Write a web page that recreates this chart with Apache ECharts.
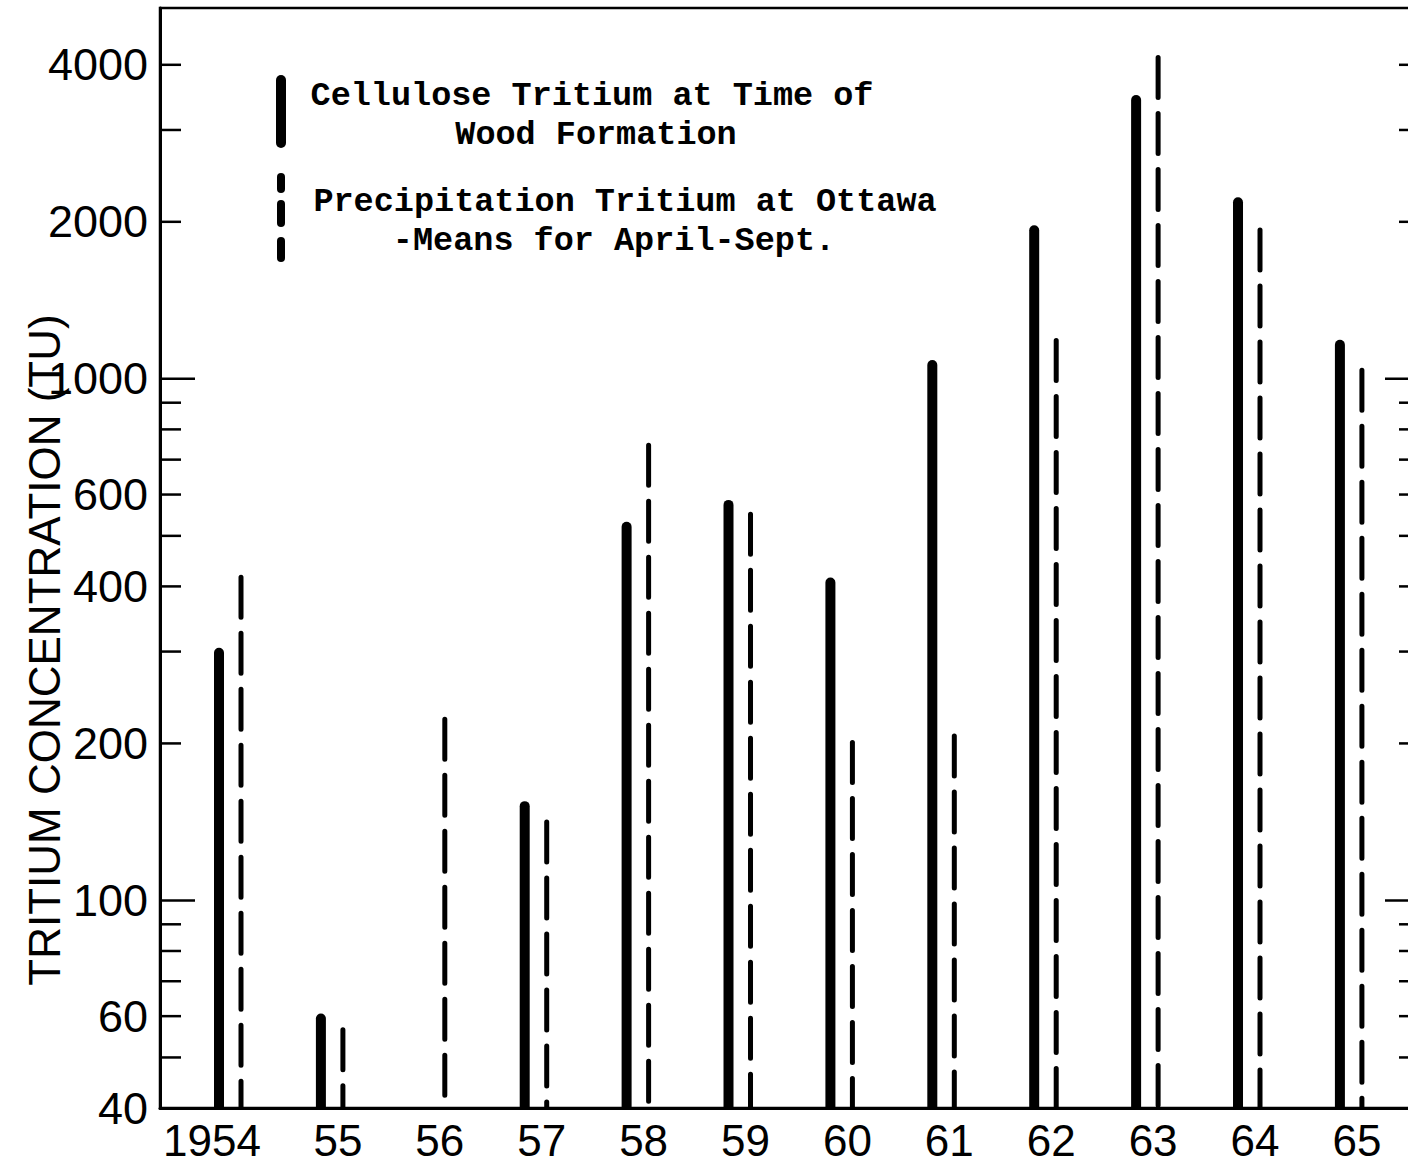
<!DOCTYPE html>
<html>
<head>
<meta charset="utf-8">
<script src="https://cdn.jsdelivr.net/npm/echarts@6/dist/echarts.min.js"></script>
<style>
  html, body { margin: 0; padding: 0; background: #fff; }
  #chart { width: 1408px; height: 1163px; }
</style>
</head>
<body>
<div id="chart"></div>
<script>
// Growing-season years
const years = [1954, 1955, 1956, 1957, 1958, 1959, 1960, 1961, 1962, 1963, 1964, 1965];
const yearLabels = ['1954', '55', '56', '57', '58', '59', '60', '61', '62', '63', '64', '65'];

// Cellulose tritium at time of wood formation (TU); no sample for 1956
const cellulose = [305, 60.7, null, 155, 532, 586, 416, 1087, 1970, 3500, 2230, 1188];
// Precipitation tritium at Ottawa, April-September means (TU)
const precipitation = [421, 57.1, 225, 143, 754, 556, 203, 209, 1198, 4175, 1950, 1050];

// Log-axis graduations
const yLabelValues = [40, 60, 100, 200, 400, 600, 1000, 2000, 4000];
const yShortTicks = [50, 60, 70, 80, 90, 200, 300, 400, 500, 600, 700, 800, 900, 2000, 3000, 4000];
const yLongTicks = [100, 1000];

const Y_MIN = 40, Y_MAX = 5140;
const X_MIN = 1953.313, X_MAX = 1965.678;
const PAIR_OFFSET = 11;     // px between a year's centre and each of its two bars

const chart = echarts.init(document.getElementById('chart'), null, { renderer: 'svg' });

function pairs(vals) {
  const out = [];
  years.forEach((y, i) => { if (vals[i] != null) out.push([y, vals[i]]); });
  return out;
}

// A leading "1" is set in a narrow slot, as on the typeset scale
function tickText(v) {
  const s = String(v);
  return s.charAt(0) === '1' ? '{one|1}{d|' + s.slice(1) + '}' : '{d|' + s + '}';
}

const tickData = yShortTicks.map(v => [X_MIN, v, 0]).concat(yLongTicks.map(v => [X_MIN, v, 1]));
const legendFont = 'bold 33.5px "Liberation Mono"';

function legendLine(text, x, y) {
  return { type: 'text', x: x, y: y, style: { text: text, font: legendFont, fill: '#000', align: 'center', verticalAlign: 'middle' } };
}

const option = {
  animation: false,
  backgroundColor: '#fff',
  grid: {
    left: 160, top: 8, width: 1260, height: 1100,
    outerBoundsMode: 'none', containLabel: false,
    show: true, borderColor: '#000', borderWidth: 2.5
  },
  xAxis: {
    type: 'value', min: X_MIN, max: X_MAX,
    splitLine: { show: false },
    axisLine: { show: true, lineStyle: { color: '#000', width: 3 } },
    axisTick: { show: false },
    axisLabel: {
      customValues: years,
      margin: 10,
      color: '#000',
      fontFamily: 'Liberation Sans',
      fontSize: 44,
      formatter: v => {
        const i = years.indexOf(Math.round(v));
        if (i === 0) return '{first|' + yearLabels[i] + '}';
        return '{yr|' + yearLabels[i] + '}';
      },
      rich: {
        first: { fontFamily: 'Liberation Sans', fontSize: 44, color: '#000', padding: [0, 36, 0, 0] },
        yr: { fontFamily: 'Liberation Sans', fontSize: 44, color: '#000', padding: [0, 0, 0, 12] }
      }
    }
  },
  yAxis: {
    type: 'log', min: Y_MIN, max: Y_MAX, logBase: 10,
    splitLine: { show: false },
    axisLine: { show: true, lineStyle: { color: '#000', width: 3 } },
    axisTick: { show: false },
    axisLabel: { show: false }
  },
  graphic: [
    {
      type: 'text', x: 44, y: 650, rotation: Math.PI / 2,
      style: { text: 'TRITIUM CONCENTRATION (TU)', font: '44px "Liberation Sans"', fill: '#000', align: 'center', verticalAlign: 'middle' }
    },
    // legend keys
    { type: 'rect', shape: { x: 276, y: 75, width: 10, height: 73, r: 5 }, style: { fill: '#000' } },
    { type: 'rect', shape: { x: 277, y: 173, width: 8, height: 20, r: 4 }, style: { fill: '#000' } },
    { type: 'rect', shape: { x: 277, y: 200, width: 8, height: 27, r: 4 }, style: { fill: '#000' } },
    { type: 'rect', shape: { x: 277, y: 237, width: 8, height: 25, r: 4 }, style: { fill: '#000' } },
    // legend text
    legendLine('Cellulose Tritium at Time of', 592, 95.5),
    legendLine('Wood Formation', 596, 134.5),
    legendLine('Precipitation Tritium at Ottawa', 625, 202),
    legendLine('-Means for April-Sept.', 614, 241)
  ],
  series: [
    {
      name: 'Cellulose Tritium at Time of Wood Formation',
      type: 'custom', coordinateSystem: 'cartesian2d', clip: true,
      data: pairs(cellulose),
      renderItem: (params, api) => {
        const top = api.coord([api.value(0), api.value(1)]);
        const base = api.coord([api.value(0), Y_MIN]);
        const w = 10;
        return {
          type: 'rect',
          shape: { x: top[0] - PAIR_OFFSET - w / 2, y: top[1], width: w, height: base[1] - top[1] + 4, r: [5, 5, 0, 0] },
          style: { fill: '#000' }
        };
      }
    },
    {
      name: 'Precipitation Tritium at Ottawa',
      type: 'custom', coordinateSystem: 'cartesian2d', clip: true,
      data: pairs(precipitation),
      renderItem: (params, api) => {
        const top = api.coord([api.value(0), api.value(1)]);
        const base = api.coord([api.value(0), Y_MIN]);
        const x = top[0] + PAIR_OFFSET;
        return {
          type: 'line',
          shape: { x1: x, y1: top[1] + 2.5, x2: x, y2: base[1] + 4 },
          style: { stroke: '#000', lineWidth: 5, lineCap: 'round', lineDash: [40, 16] }
        };
      }
    },
    {
      name: 'ticks',
      type: 'custom', coordinateSystem: 'cartesian2d', clip: false, silent: true,
      data: tickData,
      renderItem: (params, api) => {
        const v = api.value(1);
        const long = api.value(2) === 1;
        const l = api.coord([X_MIN, v]);
        const r = api.coord([X_MAX, v]);
        const len = long ? 35 : 21;
        const st = { stroke: '#000', lineWidth: 2.5 };
        return {
          type: 'group',
          children: [
            { type: 'line', shape: { x1: l[0], y1: l[1], x2: l[0] + len, y2: l[1] }, style: st },
            { type: 'line', shape: { x1: r[0], y1: r[1], x2: r[0] - len, y2: r[1] }, style: st }
          ]
        };
      }
    },
    {
      name: 'tick labels',
      type: 'custom', coordinateSystem: 'cartesian2d', clip: false, silent: true,
      data: yLabelValues.map(v => [X_MIN, v]),
      renderItem: (params, api) => {
        const v = api.value(1);
        const p = api.coord([X_MIN, v]);
        return {
          type: 'text', x: p[0] - 12, y: p[1],
          style: {
            text: tickText(v), fill: '#000', align: 'right', verticalAlign: 'middle',
            rich: {
              one: { fontFamily: 'Liberation Sans', fontSize: 45, fill: '#000', width: 17 },
              d: { fontFamily: 'Liberation Sans', fontSize: 45, fill: '#000' }
            }
          }
        };
      }
    }
  ]
};

chart.setOption(option);
</script>
</body>
</html>
